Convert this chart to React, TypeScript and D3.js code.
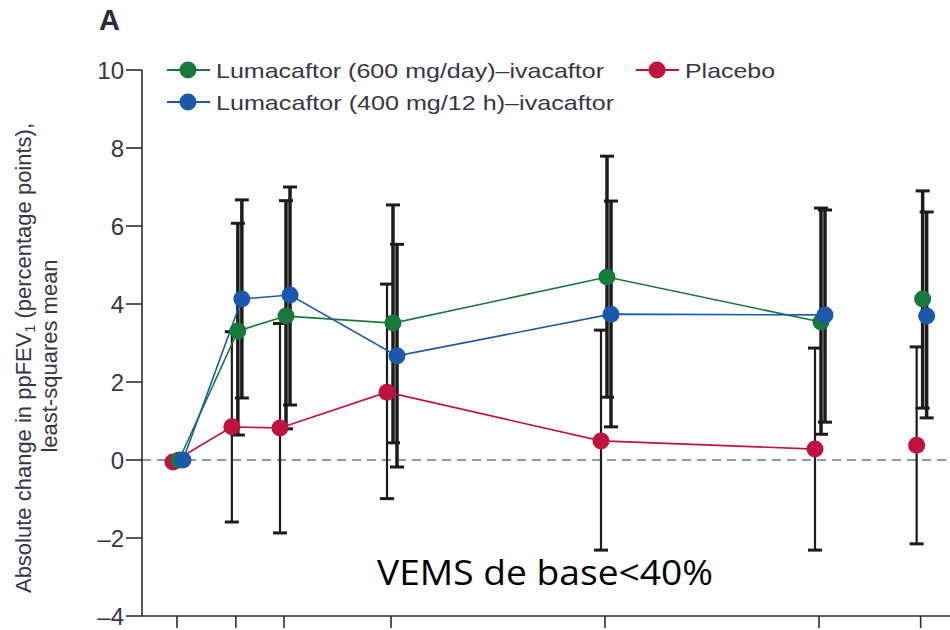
import React from "react";
import * as d3 from "d3";

// Time points (weeks); the last point is the average of weeks 16 and 24
const weeks = [0, 2.2, 4, 8, 16, 24, 27.8];
const connected = 6; // the average point is not joined to the line

// Lumacaftor (600 mg/day)–ivacaftor
const lum600Mean = [0, 3.31, 3.69, 3.51, 4.69, 3.54, 4.13];
const lum600Lo = [null, 0.64, 0.8, 0.44, 1.61, 0.66, 1.33];
const lum600Hi = [null, 6.07, 6.65, 6.54, 7.79, 6.46, 6.9];

// Lumacaftor (400 mg/12 h)–ivacaftor
const lum400Mean = [0, 4.13, 4.23, 2.67, 3.74, 3.72, 3.69];
const lum400Lo = [null, 1.59, 1.41, -0.18, 0.85, 0.97, 1.08];
const lum400Hi = [null, 6.67, 7.0, 5.53, 6.64, 6.41, 6.36];

// Placebo
const placeboMean = [-0.05, 0.85, 0.82, 1.74, 0.49, 0.28, 0.38];
const placeboLo = [null, -1.59, -1.87, -0.99, -2.31, -2.31, -2.15];
const placeboHi = [null, 3.29, 3.5, 4.51, 3.33, 2.87, 2.9];

const yTicks = [-4, -2, 0, 2, 4, 6, 8, 10];

const series = [
  { name: "Placebo", color: "#c0123e", mean: placeboMean, lo: placeboLo, hi: placeboHi, dx: -4, barW: 2.2 },
  { name: "Lumacaftor (600 mg/day)–ivacaftor", color: "#17793a", mean: lum600Mean, lo: lum600Lo, hi: lum600Hi, dx: 2, barW: 3.5 },
  { name: "Lumacaftor (400 mg/12 h)–ivacaftor", color: "#1c58ab", mean: lum400Mean, lo: lum400Lo, hi: lum400Hi, dx: 6, barW: 3.5 },
];

const W = 950;
const H = 630;
const axisX = 142;
const axisY = 616;
const font = "'Liberation Sans', Arial, sans-serif";
const ink = "#2e2e2e";
const textInk = "#3a3446";

export default function App() {
  const x = d3.scaleLinear().domain([0, 24]).range([177, 819]);
  const y = d3.scaleLinear().domain([-4, 10]).range([axisY, 70]);

  const legendItems = [
    { s: series[1], lx: 167, ly: 70, len: 388 },
    { s: series[2], lx: 167, ly: 102, len: 398 },
    { s: series[0], lx: 636, ly: 70, len: 90 },
  ];

  return (
    <svg width={W} height={H} style={{ position: "absolute", left: 0, top: 0, background: "#fff" }}>
      <rect width={W} height={H} fill="#fff" />
      <text x={99} y={30} fontFamily={font} fontWeight="bold" fontSize={29} fill="#2a2a3a">
        A
      </text>

      {/* y axis label */}
      <g fontFamily={font} fontSize={22} fill={textInk} textAnchor="middle">
        <text transform={`translate(31,${358}) rotate(-90)`}>
          Absolute change in ppFEV<tspan fontSize={14} dy={4}>1</tspan>
          <tspan dy={-4}> (percentage points),</tspan>
        </text>
        <text transform={`translate(57,${356}) rotate(-90)`}>least-squares mean</text>
      </g>

      {/* zero reference */}
      <line x1={axisX} x2={W} y1={y(0)} y2={y(0)} stroke="#5f7f88" strokeWidth={1.6} strokeDasharray="9,6" />

      {/* axes */}
      <line x1={axisX} x2={axisX} y1={y(10)} y2={axisY} stroke={ink} strokeWidth={1.6} />
      <line x1={axisX} x2={W} y1={axisY} y2={axisY} stroke={ink} strokeWidth={1.6} />
      {yTicks.map((t) => (
        <g key={t}>
          <line x1={axisX - 16} x2={axisX} y1={y(t)} y2={y(t)} stroke={ink} strokeWidth={1.6} />
          <text
            x={axisX - 18}
            y={y(t)}
            dy="0.36em"
            textAnchor="end"
            fontFamily={font}
            fontSize={24}
            fill={textInk}
          >
            {t < 0 ? `–${Math.abs(t)}` : t}
          </text>
        </g>
      ))}
      {weeks.map((w, i) => (
        <line key={i} x1={x(w)} x2={x(w)} y1={axisY} y2={axisY + 12} stroke={ink} strokeWidth={1.6} />
      ))}

      {/* confidence intervals */}
      {series.map((s) => (
        <g key={`ci-${s.name}`} stroke="#1c1c1c">
          {s.mean.map((_, i) => {
            const lo = s.lo[i];
            const hi = s.hi[i];
            if (lo === null || hi === null) return null;
            const cx = x(weeks[i]) + s.dx;
            return (
              <g key={i}>
                <line x1={cx} x2={cx} y1={y(hi)} y2={y(lo)} strokeWidth={s.barW} />
                <line x1={cx - 7} x2={cx + 7} y1={y(hi)} y2={y(hi)} strokeWidth={3} />
                <line x1={cx - 7} x2={cx + 7} y1={y(lo)} y2={y(lo)} strokeWidth={3} />
              </g>
            );
          })}
        </g>
      ))}

      {/* connecting lines */}
      {series.map((s) => (
        <path
          key={`line-${s.name}`}
          d={
            d3
              .line<number>()
              .x((_, i) => x(weeks[i]) + s.dx)
              .y((d) => y(d))(s.mean.slice(0, connected)) || ""
          }
          fill="none"
          stroke={s.color}
          strokeWidth={1.6}
        />
      ))}

      {/* points */}
      {series.map((s) => (
        <g key={`pts-${s.name}`} fill={s.color}>
          {s.mean.map((m, i) => (
            <circle key={i} cx={x(weeks[i]) + s.dx} cy={y(m)} r={8.5} />
          ))}
        </g>
      ))}

      {/* legend */}
      {legendItems.map(({ s, lx, ly, len }) => (
        <g key={`leg-${s.name}`}>
          <line x1={lx} x2={lx + 43} y1={ly} y2={ly} stroke={s.color} strokeWidth={2} />
          <circle cx={lx + 21} cy={ly} r={8.5} fill={s.color} />
          <text
            x={lx + 49}
            y={ly}
            dy="0.36em"
            fontFamily={font}
            fontSize={21}
            fill={textInk}
            textLength={len}
            lengthAdjust="spacingAndGlyphs"
          >
            {s.name}
          </text>
        </g>
      ))}

      <text
        x={377}
        y={585}
        fontFamily="'Open Sans', sans-serif"
        fontSize={35}
        fill="#000"
        textLength={336}
        lengthAdjust="spacingAndGlyphs"
      >
        VEMS de base&lt;40%
      </text>
    </svg>
  );
}
